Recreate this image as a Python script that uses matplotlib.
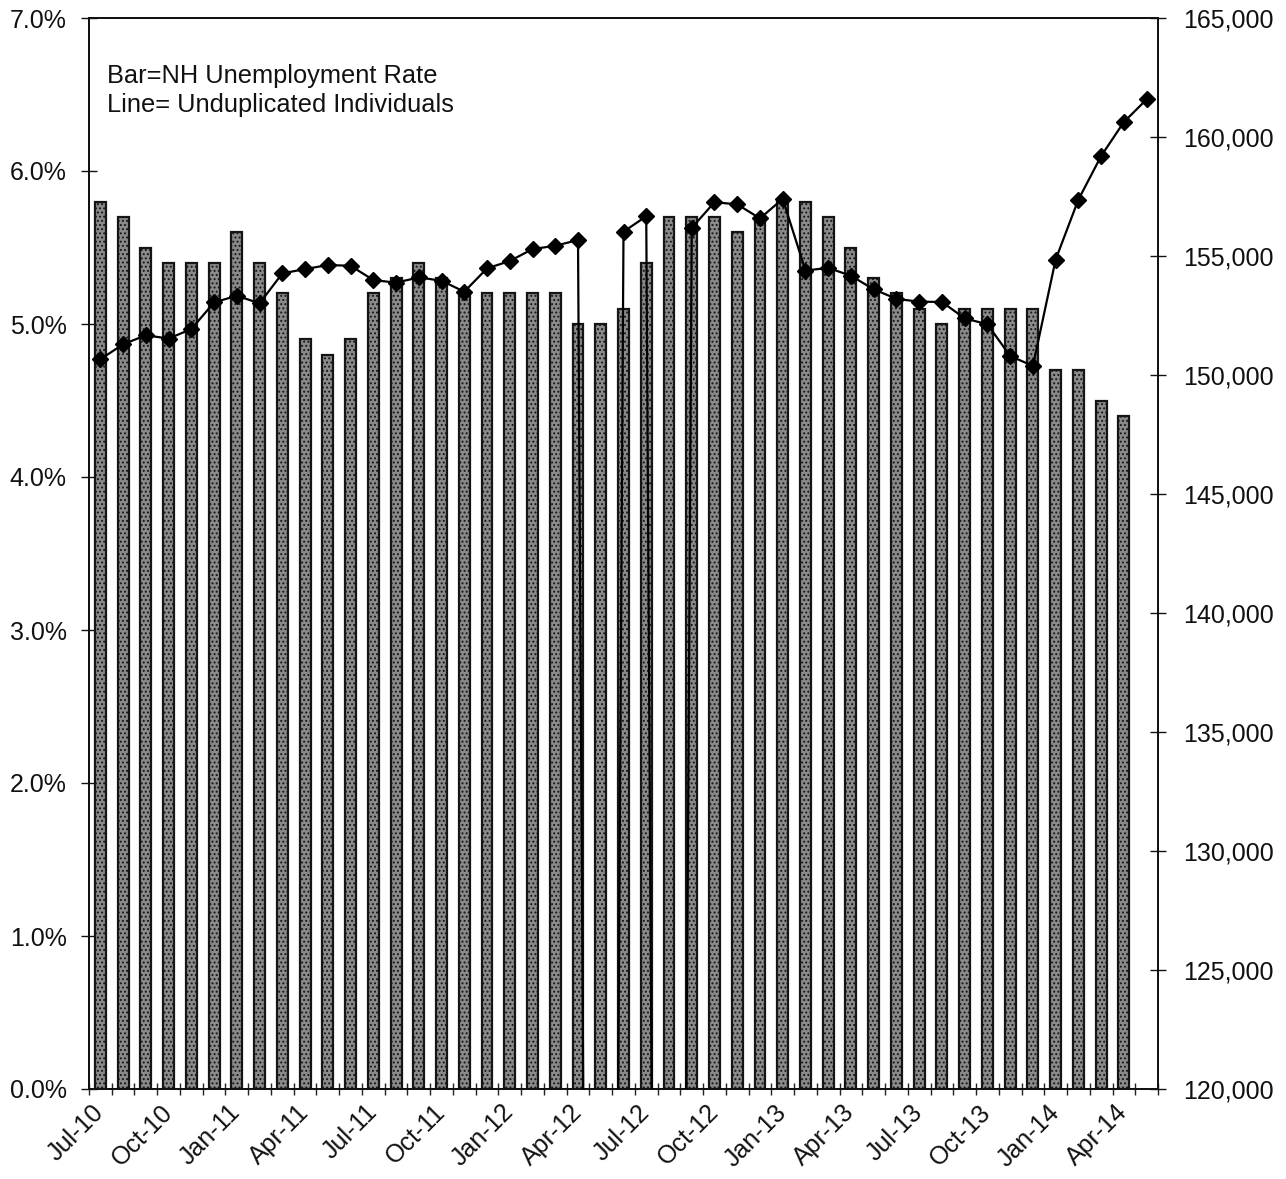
import matplotlib
matplotlib.use("Agg")
import matplotlib.pyplot as plt
from matplotlib.ticker import FuncFormatter, FixedLocator

plt.rcParams['font.family'] = ['Liberation Sans', 'DejaVu Sans']
plt.rcParams['hatch.linewidth'] = 0.9

# Monthly categories, Jul-10 through May-14
months = [
    "Jul-10", "Aug-10", "Sep-10", "Oct-10", "Nov-10", "Dec-10",
    "Jan-11", "Feb-11", "Mar-11", "Apr-11", "May-11", "Jun-11",
    "Jul-11", "Aug-11", "Sep-11", "Oct-11", "Nov-11", "Dec-11",
    "Jan-12", "Feb-12", "Mar-12", "Apr-12", "May-12", "Jun-12",
    "Jul-12", "Aug-12", "Sep-12", "Oct-12", "Nov-12", "Dec-12",
    "Jan-13", "Feb-13", "Mar-13", "Apr-13", "May-13", "Jun-13",
    "Jul-13", "Aug-13", "Sep-13", "Oct-13", "Nov-13", "Dec-13",
    "Jan-14", "Feb-14", "Mar-14", "Apr-14", "May-14",
]

# NH unemployment rate (%), Jul-10 through Apr-14
unemployment_rate = [
    5.8, 5.7, 5.5, 5.4, 5.4, 5.4, 5.6, 5.4, 5.2, 4.9, 4.8, 4.9,
    5.2, 5.3, 5.4, 5.3, 5.2, 5.2, 5.2, 5.2, 5.2, 5.0, 5.0, 5.1,
    5.4, 5.7, 5.7, 5.7, 5.6, 5.7, 5.8, 5.8, 5.7, 5.5, 5.3, 5.2,
    5.1, 5.0, 5.1, 5.1, 5.1, 5.1, 4.7, 4.7, 4.5, 4.4,
]

# Unduplicated individuals served (months without a count are recorded as 0)
individuals = [
    150660, 151290, 151670, 151530, 151930, 153050, 153330, 153010,
    154270, 154450, 154620, 154590, 153990, 153880, 154100, 153960,
    153500, 154480, 154790, 155290, 155430, 155670, 0, 156020,
    156670, 0, 156180, 157260, 157170, 156580, 157400, 154390,
    154500, 154170, 153600, 153200, 153080, 153070, 152380, 152130,
    150800, 150380, 154850, 157370, 159200, 160630, 161580,
]

# Tick labels shown every third month
label_step = 3
x_labels = months[::label_step]

W, H = 1286, 1179
fig = plt.figure(figsize=(W / 100, H / 100), dpi=100)
ax = fig.add_axes([89 / W, 90 / H, 1069 / W, 1071 / H])

xs = list(range(len(months)))
ax.bar(xs[:len(unemployment_rate)], unemployment_rate, width=0.48,
       color="#8a8a8a", edgecolor="#151515", linewidth=1.6, hatch="....",
       zorder=2)

ax.set_xlim(-0.5, len(months) - 0.5)
ax.set_ylim(0, 7)
ax.set_yticks([0, 1, 2, 3, 4, 5, 6, 7])
ax.yaxis.set_major_formatter(FuncFormatter(lambda v, p: f"{v:.1f}%"))
ax.tick_params(axis="y", direction="inout", length=12, width=1.0,
               labelsize=18, pad=10, colors="#111111")

ax.set_xticks(xs[::label_step])
ax.set_xticklabels(x_labels, rotation=45, ha="right", va="center",
                   rotation_mode="anchor", fontsize=18, color="#111111")
ax.tick_params(axis="x", which="major", length=0, pad=14)
ax.xaxis.set_minor_locator(FixedLocator([i - 0.5 for i in range(len(months) + 1)]))
ax.tick_params(axis="x", which="minor", direction="inout", length=9, width=1.0,
               color="#222222")

for side in ("left", "right", "top", "bottom"):
    ax.spines[side].set_linewidth(1.3)
    ax.spines[side].set_color("#111111")

ax2 = ax.twinx()
ax2.plot(xs, individuals, color="black", linewidth=1.6, marker="D",
         markersize=8, markerfacecolor="black", markeredgecolor="black",
         zorder=3)
ax2.set_ylim(120000, 165000)
ax2.set_yticks(range(120000, 165001, 5000))
ax2.yaxis.set_major_formatter(FuncFormatter(lambda v, p: f"{int(v):,}"))
ax2.tick_params(axis="y", direction="inout", length=12, width=1.0,
                labelsize=18, pad=12, colors="#111111")
for side in ("left", "right", "top", "bottom"):
    ax2.spines[side].set_linewidth(1.3)
    ax2.spines[side].set_color("#111111")

fig.text(107 / W, 1 - 83 / H, "Bar=NH Unemployment Rate",
         ha="left", va="baseline", fontsize=18.3, color="#111111")
fig.text(107 / W, 1 - 112 / H, "Line= Unduplicated Individuals",
         ha="left", va="baseline", fontsize=18.3, color="#111111")

fig.savefig("out.png", dpi=100, facecolor="white")
